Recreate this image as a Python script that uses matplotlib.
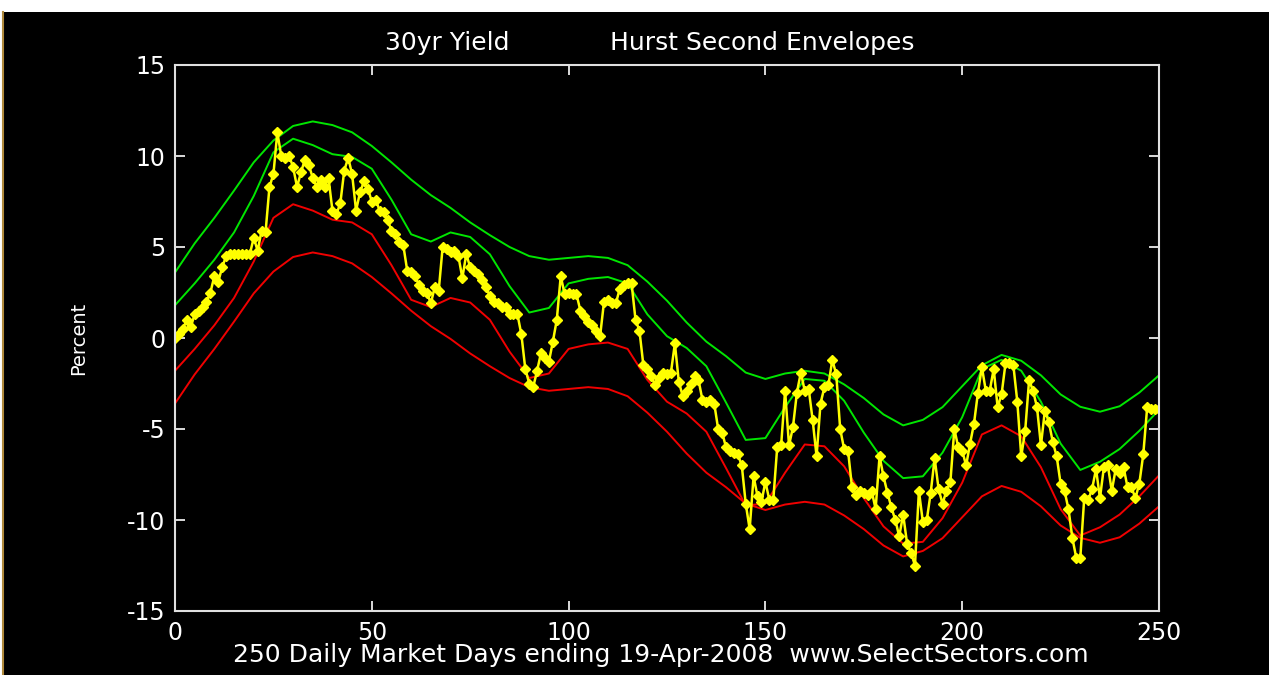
import numpy as np
import matplotlib
matplotlib.use("Agg")
import matplotlib.pyplot as plt
from matplotlib.patches import Rectangle
from matplotlib.lines import Line2D

# 30-year yield, % change over 250 market days
yield_pct = [
    0.0, 0.2, 0.5, 1.0, 0.6, 1.3, 1.5, 1.7, 2.0, 2.5,
    3.4, 3.1, 3.9, 4.5, 4.6, 4.6, 4.6, 4.6, 4.6, 4.6,
    5.5, 4.8, 5.9, 5.8, 8.3, 9.0, 11.3, 10.0, 9.9, 10.0,
    9.4, 8.3, 9.1, 9.8, 9.5, 8.8, 8.3, 8.7, 8.3, 8.8,
    7.0, 6.8, 7.4, 9.2, 9.9, 9.0, 7.0, 8.0, 8.6, 8.2,
    7.5, 7.6, 7.0, 6.9, 6.5, 5.9, 5.7, 5.3, 5.1, 3.7,
    3.6, 3.4, 2.9, 2.6, 2.5, 1.9, 2.8, 2.6, 5.0, 4.9,
    4.7, 4.8, 4.5, 3.3, 4.6, 3.9, 3.7, 3.5, 3.2, 2.8,
    2.3, 2.0, 1.9, 1.7, 1.7, 1.3, 1.3, 1.3, 0.2, -1.7,
    -2.5, -2.7, -1.8, -0.8, -1.1, -1.3, -0.2, 1.0, 3.4, 2.4,
    2.5, 2.4, 2.4, 1.5, 1.2, 0.9, 0.7, 0.4, 0.1, 2.0,
    2.1, 1.9, 1.9, 2.7, 2.9, 3.0, 3.0, 1.0, 0.4, -1.5,
    -1.7, -2.1, -2.6, -2.2, -1.9, -2.0, -1.9, -0.3, -2.4, -3.2,
    -2.9, -2.5, -2.1, -2.3, -3.4, -3.5, -3.4, -3.6, -5.0, -5.2,
    -6.0, -6.2, -6.3, -6.4, -7.0, -9.1, -10.5, -7.6, -8.7, -9.0,
    -7.9, -8.9, -8.9, -6.0, -5.9, -2.9, -5.9, -4.9, -3.0, -1.9,
    -2.9, -2.8, -4.5, -6.5, -3.6, -2.7, -2.6, -1.2, -2.0, -5.0,
    -6.1, -6.2, -8.2, -8.6, -8.4, -8.5, -8.6, -8.4, -9.4, -6.5,
    -7.6, -8.5, -9.3, -10.0, -10.9, -9.7, -11.3, -11.8, -12.5, -8.4,
    -10.1, -10.0, -8.5, -6.6, -8.3, -9.1, -8.4, -7.9, -5.0, -6.0,
    -6.2, -7.0, -5.8, -4.7, -3.0, -1.6, -2.9, -2.9, -1.7, -3.8,
    -3.1, -1.4, -1.4, -1.5, -3.5, -6.5, -5.1, -2.3, -2.9, -3.8,
    -5.9, -4.0, -4.6, -5.7, -6.5, -8.0, -8.4, -9.4, -11.0, -12.1,
    -12.1, -8.8, -8.9, -8.3, -7.2, -8.8, -7.1, -7.0, -8.4, -7.2,
    -7.4, -7.1, -8.2, -8.2, -8.8, -8.0, -6.4, -3.8, -3.9, -3.9,
    -3.9,
]
days = np.arange(len(yield_pct))

# envelope curves, sampled every 5 market days
env_days = np.arange(0, 251, 5)
outer_upper = [3.6, 5.2, 6.6, 8.1, 9.65, 10.85, 11.65, 11.9, 11.7, 11.3,
               10.55, 9.65, 8.7, 7.85, 7.15, 6.35, 5.65, 5.0, 4.5, 4.3,
               4.4, 4.5, 4.4, 4.0, 3.1, 2.05, 0.85, -0.2, -1.0, -1.9,
               -2.25, -1.95, -1.8, -1.95, -2.55, -3.3, -4.2, -4.8, -4.5, -3.8,
               -2.65, -1.5, -0.93, -1.25, -2.05, -3.1, -3.78, -4.05, -3.75, -3.0,
               -2.05]
outer_lower = [-3.6, -2.0, -0.6, 0.9, 2.45, 3.65, 4.45, 4.7, 4.5, 4.1,
               3.35, 2.45, 1.5, 0.65, -0.05, -0.85, -1.55, -2.2, -2.7, -2.9,
               -2.8, -2.7, -2.8, -3.2, -4.1, -5.15, -6.35, -7.4, -8.2, -9.1,
               -9.45, -9.15, -9.0, -9.15, -9.75, -10.5, -11.4, -12.0, -11.7, -11.0,
               -9.85, -8.7, -8.13, -8.45, -9.25, -10.3, -10.98, -11.25, -10.95, -10.2,
               -9.25]
inner_upper = [1.8, 3.0, 4.3, 5.8, 7.8, 10.2, 10.95, 10.6, 10.1, 9.95,
               9.3, 7.6, 5.7, 5.3, 5.8, 5.55, 4.6, 2.85, 1.4, 1.65,
               3.0, 3.25, 3.35, 3.0, 1.3, 0.1, -0.55, -1.55, -3.55, -5.6,
               -5.5, -3.8, -2.25, -2.35, -3.45, -5.2, -6.75, -7.7, -7.6, -6.3,
               -4.35, -1.7, -1.2, -1.8, -3.5, -5.8, -7.25, -6.8, -6.1, -5.1,
               -3.95]
inner_lower = [-1.8, -0.6, 0.7, 2.2, 4.2, 6.6, 7.35, 7.0, 6.5, 6.35,
               5.7, 4.0, 2.1, 1.7, 2.2, 1.95, 1.0, -0.75, -2.2, -1.95,
               -0.6, -0.35, -0.25, -0.6, -2.3, -3.5, -4.15, -5.15, -7.15, -9.2,
               -9.1, -7.4, -5.85, -5.95, -7.05, -8.8, -10.35, -11.3, -11.2, -9.9,
               -7.95, -5.3, -4.8, -5.4, -7.1, -9.4, -10.85, -10.4, -9.7, -8.7,
               -7.55]

x_ticks = [0, 50, 100, 150, 200, 250]
y_ticks = [-15, -10, -5, 0, 5, 10, 15]

plt.rcParams["font.family"] = ["DejaVu Sans"]
plt.rcParams["axes.unicode_minus"] = False

W, H = 1269, 675
fig = plt.figure(figsize=(W / 100, H / 100), dpi=100, facecolor="white")

# black panel with thin gold edge
fig.add_artist(Rectangle((3 / W, 0), 1 - 3 / W, (H - 12) / H,
                         transform=fig.transFigure, facecolor="black",
                         edgecolor="none", zorder=-10))
fig.add_artist(Line2D([3 / W, 3 / W], [0, (H - 12) / H],
                      transform=fig.transFigure, color="#b08a3c", lw=1.5))

ax = fig.add_axes([175 / W, (H - 611) / H, (1159 - 175) / W, (611 - 65) / H])
ax.set_facecolor("black")

green = "#00e600"
red = "#f00000"
ax.plot(env_days, outer_upper, color=green, lw=1.4)
ax.plot(env_days, inner_upper, color=green, lw=1.4)
ax.plot(env_days, inner_lower, color=red, lw=1.4)
ax.plot(env_days, outer_lower, color=red, lw=1.4)
ax.plot(days, yield_pct, color="#ffff00", lw=1.8, marker="D",
        markersize=5.5, markerfacecolor="#ffff00", markeredgecolor="#ffff00")

ax.set_xlim(0, 250)
ax.set_ylim(-15, 15)
ax.set_xticks(x_ticks)
ax.set_yticks(y_ticks)
ax.tick_params(direction="in", length=7, width=1.2, colors="white",
               labelsize=17, top=True, right=True, pad=7)
for s in ax.spines.values():
    s.set_color("#e0e0e0")
    s.set_linewidth(1.5)

ax.set_ylabel("Percent", color="white", fontsize=14)
ax.yaxis.set_label_coords((88 - 175) / (1159 - 175), 0.5)

fig.text(661 / W, 13 / H, "250 Daily Market Days ending 19-Apr-2008  www.SelectSectors.com",
         color="white", fontsize=18, ha="center", va="baseline")
fig.text(385 / W, (H - 50) / H, "30yr Yield", color="white", fontsize=18,
         ha="left", va="baseline")
fig.text(610 / W, (H - 50) / H, "Hurst Second Envelopes", color="white",
         fontsize=18, ha="left", va="baseline")

fig.savefig("out.png", dpi=100, facecolor=fig.get_facecolor())
